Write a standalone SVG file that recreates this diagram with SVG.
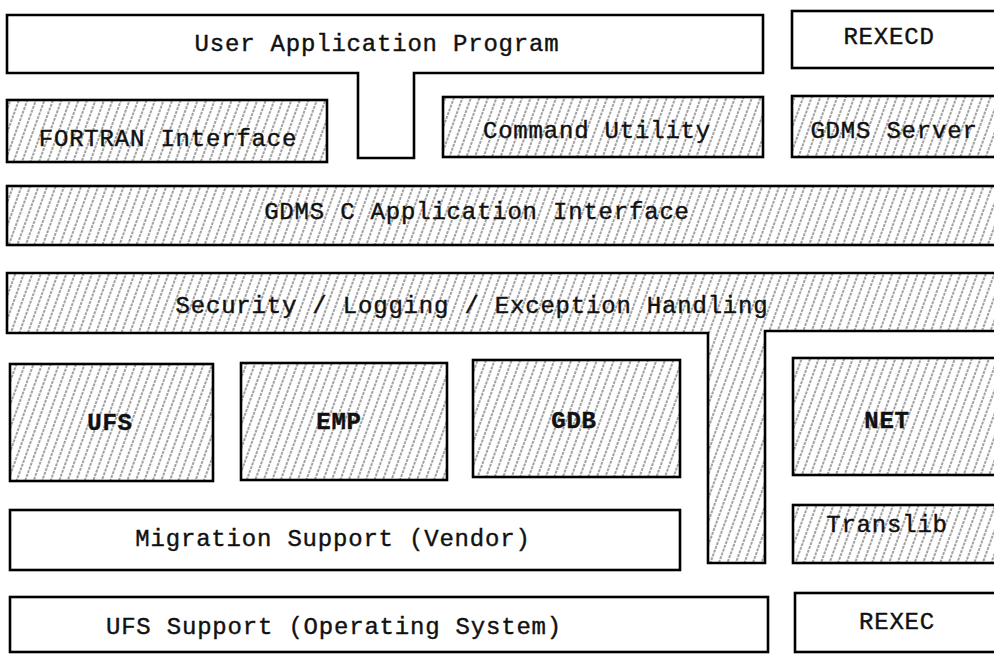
<svg xmlns="http://www.w3.org/2000/svg" width="994" height="654" viewBox="0 0 994 654">
<defs>
<pattern id="hatch" patternUnits="userSpaceOnUse" width="8" height="8" patternTransform="rotate(20)">
<rect width="8" height="8" fill="#fff"/>
<line x1="4" y1="0" x2="4" y2="8" stroke="#333" stroke-width="0.9" stroke-dasharray="3 1"/>
</pattern>
</defs>
<style>
.box{fill:#fff;stroke:#000;stroke-width:2.6}
.hat{fill:url(#hatch);stroke:#000;stroke-width:2.6}
text{font-family:"Liberation Mono","DejaVu Sans Mono",monospace;font-size:24px;letter-spacing:0.8px;fill:#111;text-anchor:middle;stroke:#111;stroke-width:0.4}
.b{font-weight:bold}
</style>
<rect width="994" height="654" fill="#fff"/>
<g id="user-application-program">
<path class="box" d="M7,15 H763 V73 H414 V158 H358 V73 H7 Z"/>
<text x="377" y="51">User Application Program</text>
</g>
<g id="rexecd">
<rect class="box" x="792" y="11" width="220" height="57"/>
<text x="889" y="44">REXECD</text>
</g>
<g id="fortran-interface">
<rect class="hat" x="7" y="100" width="320" height="62"/>
<text x="168" y="146">FORTRAN Interface</text>
</g>
<g id="command-utility">
<rect class="hat" x="443" y="97" width="320" height="60"/>
<text x="597" y="138">Command Utility</text>
</g>
<g id="gdms-server">
<rect class="hat" x="792" y="96" width="220" height="61"/>
<text x="894" y="138">GDMS Server</text>
</g>
<g id="gdms-c-api">
<rect class="hat" x="7" y="186" width="1010" height="59"/>
<text x="477" y="219">GDMS C Application Interface</text>
</g>
<g id="security-logging-exception">
<path class="hat" d="M7,273 H1010 V331 H765 V563 H708 V333 H7 Z"/>
<text x="472" y="313">Security / Logging / Exception Handling</text>
</g>
<g id="ufs">
<rect class="hat" x="10" y="364" width="203" height="117"/>
<text class="b" x="110" y="430">UFS</text>
</g>
<g id="emp">
<rect class="hat" x="241" y="363" width="206" height="117"/>
<text class="b" x="339" y="429">EMP</text>
</g>
<g id="gdb">
<rect class="hat" x="473" y="360" width="207" height="117"/>
<text class="b" x="574" y="428">GDB</text>
</g>
<g id="net">
<rect class="hat" x="793" y="358" width="220" height="117"/>
<text class="b" x="887" y="428">NET</text>
</g>
<g id="migration-support">
<rect class="box" x="10" y="510" width="670" height="60"/>
<text x="333" y="546">Migration Support (Vendor)</text>
</g>
<g id="translib">
<rect class="hat" x="793" y="505" width="220" height="58"/>
<text x="887" y="532">Translib</text>
</g>
<g id="ufs-support">
<rect class="box" x="10" y="597" width="758" height="55"/>
<text x="334" y="634">UFS Support (Operating System)</text>
</g>
<g id="rexec">
<rect class="box" x="795" y="593" width="220" height="59"/>
<text x="897" y="629">REXEC</text>
</g>
<g id="connectors"></g>
</svg>
